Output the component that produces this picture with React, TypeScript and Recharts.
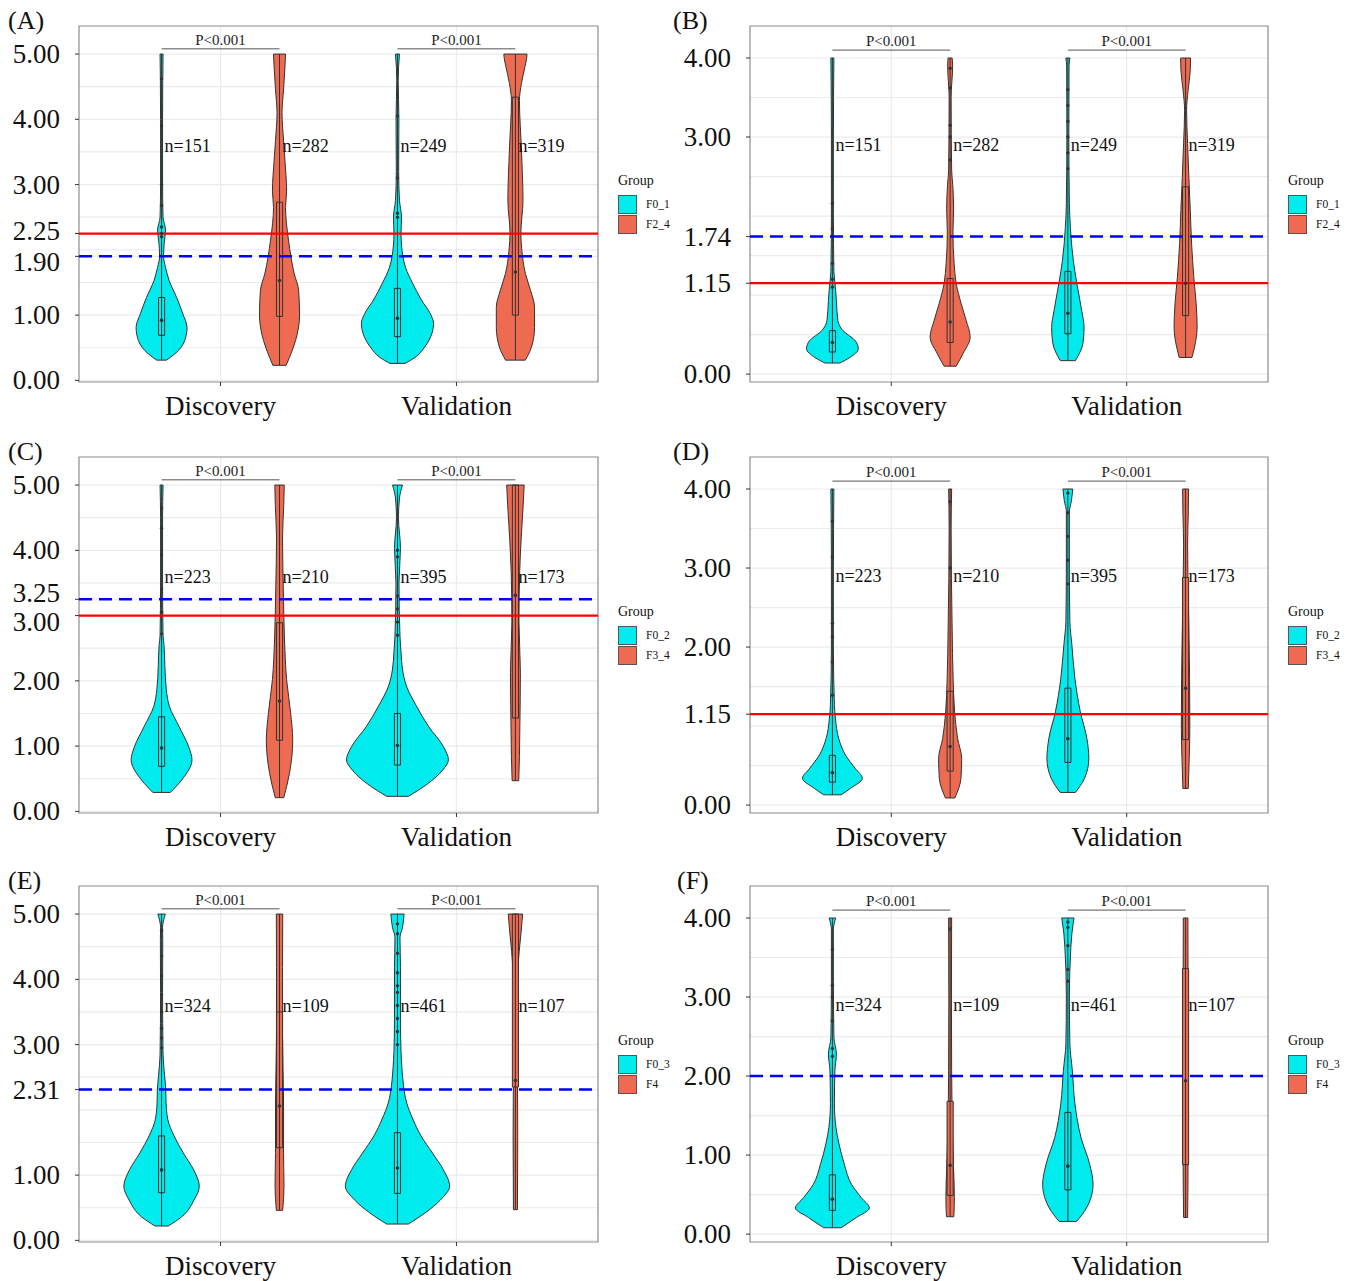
import React from "react";
import {
  ComposedChart,
  Area,
  XAxis,
  YAxis,
  CartesianGrid,
  ReferenceLine,
  ReferenceArea,
  ReferenceDot,
} from "recharts";

const FONT = "'Liberation Serif', 'Times New Roman', serif";
const CATEGORIES = ["Discovery", "Validation"];
const CATEGORY_POS = [1, 2];
const FILLS = ["#00EBEE", "#EE6A50"];
const OUTLINE = "#333333";
const DODGE = 0.25;
const BOX_HALF = 0.013;

// violin outlines: [value, half width in x-axis units]
// order in every panel: Discovery low, Discovery high, Validation low, Validation high
const A_DC = [[0.31, 0.021], [0.46, 0.072], [0.61, 0.098], [0.81, 0.108], [1.03, 0.089], [1.27, 0.064], [1.53, 0.032], [1.73, 0.017], [1.9, 0.0085], [2.1, 0.011], [2.3, 0.017], [2.5, 0.0064], [3.0, 0.0042], [4.0, 0.0042], [4.6, 0.005], [5.0, 0.0064]];
const A_DO = [[0.23, 0.028], [0.35, 0.042], [0.61, 0.068], [1.0, 0.085], [1.38, 0.081], [1.64, 0.062], [2.15, 0.038], [2.65, 0.0255], [2.9, 0.03], [3.37, 0.023], [3.68, 0.017], [4.1, 0.0106], [4.45, 0.017], [4.8, 0.023], [5.0, 0.0255]];
const A_VC = [[0.26, 0.032], [0.35, 0.074], [0.51, 0.115], [0.72, 0.146], [0.87, 0.153], [1.03, 0.138], [1.23, 0.102], [1.49, 0.064], [1.73, 0.034], [1.9, 0.023], [2.25, 0.015], [2.5, 0.017], [2.76, 0.0085], [3.2, 0.005], [4.0, 0.006], [4.6, 0.003], [5.0, 0.0085]];
const A_VO = [[0.31, 0.042], [0.51, 0.068], [0.81, 0.081], [1.12, 0.081], [1.38, 0.064], [1.64, 0.042], [2.0, 0.027], [2.25, 0.023], [2.76, 0.032], [3.53, 0.0255], [4.29, 0.017], [4.55, 0.0255], [4.8, 0.04], [4.95, 0.048], [5.0, 0.049]];

const B_DC = [[0.14, 0.032], [0.21, 0.074], [0.32, 0.11], [0.42, 0.098], [0.55, 0.045], [0.68, 0.023], [0.93, 0.017], [1.1, 0.0127], [1.3, 0.0064], [2.0, 0.0042], [3.0, 0.0042], [4.0, 0.0064]];
const B_DO = [[0.1, 0.0255], [0.26, 0.055], [0.47, 0.085], [0.68, 0.068], [0.89, 0.047], [1.15, 0.0255], [1.4, 0.017], [1.8, 0.012], [2.1, 0.0148], [2.4, 0.011], [2.58, 0.0064], [3.5, 0.0042], [3.9, 0.0106], [4.0, 0.0085]];
const B_VC = [[0.17, 0.032], [0.39, 0.064], [0.59, 0.069], [0.8, 0.059], [1.15, 0.038], [1.44, 0.023], [1.86, 0.0106], [2.16, 0.0064], [3.0, 0.0042], [3.9, 0.005], [4.0, 0.0085]];
const B_VO = [[0.21, 0.027], [0.59, 0.049], [0.89, 0.045], [1.22, 0.035], [1.65, 0.0255], [2.07, 0.02], [2.49, 0.014], [2.92, 0.0085], [3.34, 0.0042], [3.59, 0.0106], [3.85, 0.02], [4.0, 0.021]];

const C_DC = [[0.29, 0.037], [0.48, 0.085], [0.79, 0.129], [0.99, 0.115], [1.3, 0.074], [1.61, 0.033], [1.87, 0.02], [2.23, 0.014], [2.54, 0.0106], [2.69, 0.0064], [3.5, 0.0042], [4.5, 0.0042], [5.0, 0.0064]];
const C_DO = [[0.21, 0.018], [0.58, 0.042], [1.09, 0.056], [1.51, 0.047], [2.02, 0.03], [2.64, 0.021], [3.41, 0.016], [4.19, 0.0127], [4.7, 0.018], [5.0, 0.02]];
const C_VC = [[0.23, 0.046], [0.42, 0.127], [0.63, 0.191], [0.79, 0.216], [0.99, 0.195], [1.3, 0.132], [1.61, 0.081], [1.92, 0.038], [2.18, 0.021], [2.44, 0.015], [2.69, 0.0106], [3.5, 0.0064], [4.03, 0.0127], [4.5, 0.0042], [4.8, 0.0085], [5.0, 0.021]];
const C_VO = [[0.47, 0.014], [0.84, 0.017], [1.36, 0.019], [2.13, 0.021], [2.9, 0.015], [3.67, 0.018], [4.19, 0.0245], [4.7, 0.033], [5.0, 0.037]];

const D_DC = [[0.13, 0.037], [0.21, 0.076], [0.34, 0.127], [0.46, 0.098], [0.63, 0.056], [0.84, 0.027], [1.1, 0.0127], [1.27, 0.0085], [2.0, 0.0042], [3.0, 0.0042], [4.0, 0.0064]];
const D_DO = [[0.09, 0.02], [0.34, 0.046], [0.59, 0.049], [0.84, 0.032], [1.18, 0.019], [1.6, 0.0127], [2.24, 0.0085], [2.87, 0.0055], [3.5, 0.0042], [4.0, 0.0064]];
const D_VC = [[0.16, 0.032], [0.34, 0.071], [0.59, 0.089], [0.84, 0.081], [1.18, 0.053], [1.6, 0.03], [2.03, 0.017], [2.32, 0.0085], [3.0, 0.0064], [3.71, 0.0064], [3.85, 0.015], [4.0, 0.021]];
const D_VO = [[0.21, 0.0115], [0.55, 0.015], [0.97, 0.018], [1.6, 0.017], [2.45, 0.0127], [3.29, 0.0085], [3.71, 0.0115], [4.0, 0.0127]];

const E_DC = [[0.22, 0.028], [0.36, 0.085], [0.62, 0.138], [0.83, 0.16], [1.08, 0.136], [1.34, 0.092], [1.6, 0.053], [1.86, 0.026], [2.12, 0.019], [2.3, 0.018], [2.53, 0.0127], [2.84, 0.0064], [3.8, 0.0042], [4.6, 0.005], [4.79, 0.0042], [5.0, 0.0157]];
const E_DO = [[0.46, 0.0136], [0.83, 0.019], [1.35, 0.017], [2.12, 0.017], [3.15, 0.0127], [4.18, 0.0127], [5.0, 0.0136]];
const E_VC = [[0.25, 0.046], [0.42, 0.117], [0.62, 0.182], [0.83, 0.221], [1.08, 0.195], [1.34, 0.148], [1.6, 0.1], [1.86, 0.065], [2.12, 0.038], [2.37, 0.0255], [2.63, 0.019], [2.89, 0.015], [3.4, 0.0127], [4.18, 0.0127], [4.64, 0.0106], [4.79, 0.021], [5.0, 0.028]];
const E_VO = [[0.47, 0.0085], [1.6, 0.0098], [2.63, 0.0085], [3.66, 0.0085], [4.07, 0.0098], [4.43, 0.016], [4.74, 0.0245], [5.0, 0.0305]];

const F_DC = [[0.08, 0.037], [0.21, 0.102], [0.33, 0.157], [0.46, 0.123], [0.63, 0.081], [0.88, 0.051], [1.14, 0.028], [1.35, 0.015], [1.65, 0.0085], [2.07, 0.0106], [2.28, 0.017], [2.49, 0.0064], [3.2, 0.0042], [3.85, 0.0042], [4.0, 0.014]];
const F_DO = [[0.22, 0.0157], [0.46, 0.018], [0.8, 0.015], [1.22, 0.0106], [2.07, 0.0064], [3.0, 0.0055], [4.0, 0.0064]];
const F_VC = [[0.16, 0.037], [0.33, 0.079], [0.63, 0.107], [0.88, 0.093], [1.22, 0.056], [1.65, 0.03], [2.07, 0.019], [2.41, 0.0085], [3.0, 0.0064], [3.63, 0.0127], [3.8, 0.017], [4.0, 0.026]];
const F_VO = [[0.21, 0.0085], [1.0, 0.0106], [2.0, 0.0106], [3.0, 0.0106], [4.0, 0.0098]];

// boxplots: [q1, median, q3]
const A_BOX = [[0.69, 0.92, 1.27], [0.98, 1.53, 2.73], [0.67, 0.95, 1.41], [1.0, 1.66, 4.34]];
const B_BOX = [[0.28, 0.4, 0.55], [0.4, 0.66, 1.21], [0.51, 0.77, 1.3], [0.74, 1.15, 2.37]];
const C_BOX = [[0.69, 0.97, 1.45], [1.09, 1.69, 2.89], [0.71, 1.01, 1.5], [1.43, 3.31, 5.0]];
const D_BOX = [[0.29, 0.41, 0.63], [0.43, 0.74, 1.44], [0.54, 0.84, 1.48], [0.83, 1.48, 2.88]];
const E_BOX = [[0.73, 1.08, 1.6], [1.42, 2.06, 3.5], [0.72, 1.11, 1.65], [2.35, 2.45, 5.0]];
const F_BOX = [[0.3, 0.44, 0.75], [0.49, 0.87, 1.68], [0.56, 0.86, 1.54], [0.88, 1.94, 3.36]];

// outlier points visible along the whiskers
const A_OUT = [[4.62, 3.9, 3.0, 2.68, 2.35, 2.25, 2.2], [], [4.05, 3.1, 2.56, 2.5], []];
const B_OUT = [[2.16, 1.84, 1.4, 1.2, 1.1], [3.87, 3.62, 3.15, 3.0, 2.71], [3.6, 3.4, 3.2, 3.0, 2.8, 2.6], []];
const C_OUT = [[4.65, 4.34, 3.93, 3.41, 3.05, 2.72], [], [4.0, 3.9, 3.3, 3.1, 2.9, 2.7], []];
const D_OUT = [[3.59, 3.14, 2.3, 2.13, 1.81, 1.39], [3.84, 3.0], [3.95, 3.7, 3.4, 3.1, 2.8], []];
const E_OUT = [[4.75, 4.36, 4.05, 3.76, 3.5, 3.25, 3.1, 2.95], [], [4.85, 4.7, 4.4, 4.1, 3.9, 3.8, 3.6, 3.4, 3.2, 3.0], []];
const F_OUT = [[3.6, 3.15, 3.0, 2.7, 2.35, 2.25], [3.86], [3.95, 3.88, 3.65, 3.35, 3.2], []];

const N_AB = [151, 282, 249, 319];
const N_CD = [223, 210, 395, 173];
const N_EF = [324, 109, 461, 107];

const GROUPS_AB = ["F0_1", "F2_4"];
const GROUPS_CD = ["F0_2", "F3_4"];
const GROUPS_EF = ["F0_3", "F4"];

const TICKS_A = [0, 1, 1.9, 2.25, 3, 4, 5];
const TICKS_B = [0, 1.15, 1.74, 3, 4];
const TICKS_C = [0, 1, 2, 3, 3.25, 4, 5];
const TICKS_D = [0, 1.15, 2, 3, 4];
const TICKS_E = [0, 1, 2.31, 3, 4, 5];
const TICKS_F = [0, 1, 2, 3, 4];

const MINOR_5 = [0.5, 1.5, 2, 2.5, 3.5, 4.5];
const MINOR_C = [0.5, 1.5, 2.5, 3.5, 4.5];
const MINOR_B = [0.5, 1, 1.5, 2, 2.5, 3.5];
const MINOR_D = [0.5, 1, 1.5, 2.5, 3.5];
const MINOR_F = [0.5, 1.5, 2.5, 3.5];

type Profile = number[][];
type Panel = {
  tag: string;
  domain: [number, number];
  ticks: number[];
  minor: number[];
  violins: Profile[];
  boxes: number[][];
  outliers: number[][];
  counts: number[];
  groups: string[];
  red?: number;
  blue?: number;
  nY: number;
  pY: number;
  nudges: Record<string, number>;
  left: number;
  top: number;
  width: number;
  tagLeft: number;
};

const DOMAIN_5: [number, number] = [-0.025, 5.43];
const DOMAIN_4: [number, number] = [-0.1, 4.405];

const PANELS: Panel[] = [
  { tag: "(A)", domain: DOMAIN_5, ticks: TICKS_A, minor: MINOR_5, violins: [A_DC, A_DO, A_VC, A_VO], boxes: A_BOX, outliers: A_OUT, counts: N_AB, groups: GROUPS_AB, red: 2.25, blue: 1.9, nY: 3.6, pY: 5.08, nudges: { "2.25": -3, "1.90": 6 }, left: 79, top: 26, width: 519, tagLeft: 8 },
  { tag: "(B)", domain: DOMAIN_4, ticks: TICKS_B, minor: MINOR_B, violins: [B_DC, B_DO, B_VC, B_VO], boxes: B_BOX, outliers: B_OUT, counts: N_AB, groups: GROUPS_AB, red: 1.15, blue: 1.74, nY: 2.9, pY: 4.1, nudges: {}, left: 750, top: 26, width: 518, tagLeft: 673 },
  { tag: "(C)", domain: DOMAIN_5, ticks: TICKS_C, minor: MINOR_C, violins: [C_DC, C_DO, C_VC, C_VO], boxes: C_BOX, outliers: C_OUT, counts: N_CD, groups: GROUPS_CD, red: 3.0, blue: 3.25, nY: 3.6, pY: 5.08, nudges: { "3.25": -6, "3.00": 6 }, left: 79, top: 457, width: 519, tagLeft: 8 },
  { tag: "(D)", domain: DOMAIN_4, ticks: TICKS_D, minor: MINOR_D, violins: [D_DC, D_DO, D_VC, D_VO], boxes: D_BOX, outliers: D_OUT, counts: N_CD, groups: GROUPS_CD, red: 1.15, nY: 2.9, pY: 4.1, nudges: {}, left: 750, top: 457, width: 518, tagLeft: 673 },
  { tag: "(E)", domain: DOMAIN_5, ticks: TICKS_E, minor: MINOR_5, violins: [E_DC, E_DO, E_VC, E_VO], boxes: E_BOX, outliers: E_OUT, counts: N_EF, groups: GROUPS_EF, blue: 2.31, nY: 3.6, pY: 5.08, nudges: {}, left: 79, top: 886, width: 519, tagLeft: 8 },
  { tag: "(F)", domain: DOMAIN_4, ticks: TICKS_F, minor: MINOR_F, violins: [F_DC, F_DO, F_VC, F_VO], boxes: F_BOX, outliers: F_OUT, counts: N_EF, groups: GROUPS_EF, blue: 2.0, nY: 2.9, pY: 4.1, nudges: {}, left: 750, top: 886, width: 518, tagLeft: 677 },
];

const centre = (i: number) =>
  CATEGORY_POS[Math.floor(i / 2)] + (i % 2 === 0 ? -DODGE : DODGE);

// one table per panel; rows of one violin carry [null, null] for the others so each outline breaks cleanly
function buildRows(violins: Profile[]) {
  const rows: Record<string, unknown>[] = [];
  violins.forEach((v, i) => {
    const c = centre(i);
    v.forEach(([y, w]) => {
      const row: Record<string, unknown> = { y };
      violins.forEach((_, j) => {
        row[`v${j}`] = j === i ? [c - w, c + w] : [null, null];
      });
      rows.push(row);
    });
  });
  return rows;
}

function YTick(props: any) {
  const { x, y, payload, nudges } = props;
  const label = Number(payload.value).toFixed(2);
  const dy = nudges[label] ?? 0;
  return (
    <text x={x} y={y + dy} textAnchor="end" dominantBaseline="central" fontSize={27} fill="#111" fontFamily={FONT}>
      {label}
    </text>
  );
}

function GroupLegend({ x, y, groups }: { x: number; y: number; groups: string[] }) {
  return (
    <div style={{ position: "absolute", left: x, top: y, fontFamily: FONT, color: "#111" }}>
      <div style={{ fontSize: 14, lineHeight: "18px", height: 22 }}>Group</div>
      {groups.map((g, i) => (
        <div key={g} style={{ display: "flex", alignItems: "center", height: 20 }}>
          <div style={{ width: 17, height: 17, background: FILLS[i], border: "1px solid #555" }} />
          <span style={{ marginLeft: 9, fontSize: 11.5 }}>{g}</span>
        </div>
      ))}
    </div>
  );
}

function ViolinPanel({ p }: { p: Panel }) {
  const rows = buildRows(p.violins);
  const [yMin, yMax] = p.domain;
  return (
    <>
      <div style={{ position: "absolute", left: p.left - 79, top: p.top - 26 }}>
        <ComposedChart
          layout="vertical"
          width={79 + p.width + 4}
          height={432}
          data={rows}
          margin={{ top: 26, right: 4, left: 0, bottom: 0 }}
          style={{ fontFamily: FONT }}
        >
          <CartesianGrid
            horizontalValues={[...p.ticks, ...p.minor]}
            verticalValues={CATEGORY_POS}
            stroke="#EBEBEB"
            strokeWidth={1.2}
          />
          <XAxis
            type="number"
            domain={[0.4, 2.6]}
            ticks={CATEGORY_POS}
            interval={0}
            allowDataOverflow
            tickFormatter={(v: number) => CATEGORIES[CATEGORY_POS.indexOf(v)]}
            axisLine={false}
            tickLine={{ stroke: OUTLINE }}
            tickSize={4}
            tickMargin={10}
            height={50}
            tick={{ fontSize: 27, fill: "#111", fontFamily: FONT }}
          />
          <YAxis
            type="number"
            dataKey="y"
            reversed
            domain={[yMin, yMax]}
            ticks={p.ticks}
            interval={0}
            allowDataOverflow
            width={79}
            axisLine={false}
            tickLine={{ stroke: OUTLINE }}
            tickSize={4}
            tickMargin={15}
            tick={(props: any) => <YTick {...props} nudges={p.nudges} />}
          />
          {p.violins.map((_, i) => (
            <Area
              key={`v${i}`}
              dataKey={`v${i}`}
              type="monotone"
              fill={FILLS[i % 2]}
              fillOpacity={1}
              stroke={OUTLINE}
              strokeWidth={1}
              dot={false}
              activeDot={false}
              isAnimationActive={false}
            />
          ))}
          {p.violins.map((v, i) => {
            const c = centre(i);
            const [y0, w0] = v[0];
            const [y1, w1] = v[v.length - 1];
            return [
              <ReferenceLine key={`b${i}`} segment={[{ x: c - w0, y: y0 }, { x: c + w0, y: y0 }]} stroke={OUTLINE} strokeWidth={1} />,
              <ReferenceLine key={`t${i}`} segment={[{ x: c - w1, y: y1 }, { x: c + w1, y: y1 }]} stroke={OUTLINE} strokeWidth={1} />,
              <ReferenceLine key={`w${i}`} segment={[{ x: c, y: y0 }, { x: c, y: y1 }]} stroke={OUTLINE} strokeWidth={1} />,
            ];
          })}
          {p.outliers.map((list, i) =>
            list.map((y, k) => (
              <ReferenceDot key={`o${i}-${k}`} x={centre(i)} y={y} r={1.7} fill={OUTLINE} stroke="none" />
            ))
          )}
          {p.boxes.map(([q1, med, q3], i) => {
            const c = centre(i);
            return [
              <ReferenceArea key={`box${i}`} x1={c - BOX_HALF} x2={c + BOX_HALF} y1={q1} y2={q3} fill={FILLS[i % 2]} fillOpacity={1} stroke={OUTLINE} strokeWidth={1} ifOverflow="visible" />,
              <ReferenceDot key={`med${i}`} x={c} y={med} r={1.8} fill={OUTLINE} stroke="none" />,
            ];
          })}
          {p.red !== undefined && (
            <ReferenceLine y={p.red} stroke="#FF0000" strokeWidth={2.2} />
          )}
          {p.blue !== undefined && (
            <ReferenceLine y={p.blue} stroke="#0000FF" strokeWidth={2.5} strokeDasharray="13 7" />
          )}
          {p.counts.map((n, i) => (
            <ReferenceDot
              key={`n${i}`}
              x={centre(i)}
              y={p.nY}
              r={0}
              fill="none"
              stroke="none"
              label={{ value: `n=${n}`, position: "right", offset: 3, fontSize: 18, fill: "#111", fontFamily: FONT }}
            />
          ))}
          {CATEGORY_POS.map((c, k) => [
            <ReferenceLine key={`pl${k}`} segment={[{ x: c - DODGE, y: p.pY }, { x: c + DODGE, y: p.pY }]} stroke="#555" strokeWidth={1} />,
            <ReferenceDot
              key={`pt${k}`}
              x={c}
              y={p.pY}
              r={0}
              fill="none"
              stroke="none"
              label={{ value: "P<0.001", position: "top", offset: 4, fontSize: 15, fill: "#222", fontFamily: FONT }}
            />,
          ])}
          <ReferenceArea x1={0.4} x2={2.6} y1={yMin} y2={yMax} fill="none" stroke="#8C8C8C" strokeWidth={1.2} ifOverflow="visible" />
        </ComposedChart>
      </div>
      <div
        style={{
          position: "absolute",
          left: p.tagLeft,
          top: p.top - 19,
          fontFamily: FONT,
          fontSize: 26,
          lineHeight: "28px",
          color: "#111",
        }}
      >
        {p.tag}
      </div>
      <GroupLegend x={p.left + p.width + 20} y={p.top + 146} groups={p.groups} />
    </>
  );
}

export default function App() {
  return (
    <div style={{ position: "absolute", left: 0, top: 0, width: 1355, height: 1281, background: "#fff" }}>
      {PANELS.map((p) => (
        <ViolinPanel key={p.tag} p={p} />
      ))}
    </div>
  );
}
